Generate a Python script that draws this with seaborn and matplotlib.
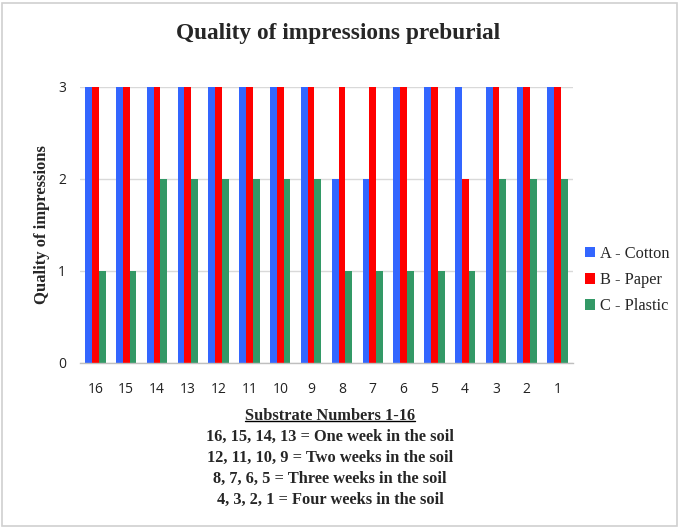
import matplotlib
matplotlib.use("Agg")
import matplotlib.pyplot as plt
from matplotlib.patches import Rectangle, Patch
from matplotlib.lines import Line2D
import seaborn as sns
import pandas as pd
import numpy as np

substrates = ["16", "15", "14", "13", "12", "11", "10", "9",
              "8", "7", "6", "5", "4", "3", "2", "1"]
cotton = [3, 3, 3, 3, 3, 3, 3, 3, 2, 2, 3, 3, 3, 3, 3, 3]
paper = [3, 3, 3, 3, 3, 3, 3, 3, 3, 3, 3, 3, 2, 3, 3, 3]
plastic = [1, 1, 2, 2, 2, 2, 2, 2, 1, 1, 1, 1, 1, 2, 2, 2]
series_names = ["A - Cotton", "B - Paper", "C - Plastic"]
colors = ["#3366FF", "#FF0000", "#339966"]
notes = [
    "16, 15, 14, 13 = One week in the soil",
    "12, 11, 10, 9 = Two weeks in the soil",
    "8, 7, 6, 5 = Three weeks in the soil",
    "4, 3, 2, 1 = Four weeks in the soil",
]

rows = []
for name, vals in zip(series_names, [cotton, paper, plastic]):
    for s, v in zip(substrates, vals):
        rows.append({"Substrate": s, "Quality": v, "Material": name})
df = pd.DataFrame(rows)

sns.set_theme(style="white")
serif = ["Liberation Serif", "DejaVu Serif"]
sans = ["Open Sans", "DejaVu Sans"]

W, H = 680, 529
fig = plt.figure(figsize=(W / 100, H / 100), dpi=100)
ax = fig.add_axes([80 / W, 1 - 363 / H, (573 - 80) / W, (363 - 87) / H])

sns.barplot(data=df, x="Substrate", y="Quality", hue="Material",
            order=substrates, hue_order=series_names, palette=colors,
            width=0.66, saturation=1, linewidth=0, ax=ax, legend=False)

ax.set_xlim(-0.5, len(substrates) - 0.5)
ax.set_ylim(0, 3)
ax.set_yticks([0, 1, 2, 3])
ax.yaxis.grid(True, color="#d9d9d9", linewidth=1)
ax.set_axisbelow(True)
for side in ["left", "right", "top"]:
    ax.spines[side].set_visible(False)
ax.spines["bottom"].set_color("#bfbfbf")
ax.spines["bottom"].set_linewidth(1)

ax.set_xticks(np.arange(len(substrates)))
ax.set_xticklabels(substrates, family=sans, fontsize=10, color="#222222")
ax.set_xticks(np.arange(len(substrates) + 1) - 0.5, minor=True)
ax.tick_params(axis="x", which="major", length=0, pad=14)
ax.tick_params(axis="x", which="minor", length=5, color="#bfbfbf", width=1)
ax.tick_params(axis="y", length=0, pad=10)
for lbl in ax.get_yticklabels():
    lbl.set_family(sans)
    lbl.set_fontsize(10)
    lbl.set_color("#222222")

ax.set_xlabel("")
ax.set_ylabel("Quality of impressions", family=serif, fontsize=12,
              fontweight="bold", labelpad=6)

fig.text(338 / W, 1 - 34 / H, "Quality of impressions preburial",
         family=serif, fontsize=16.8, fontweight="bold", ha="center",
         va="center")

handles = [Patch(facecolor=c, edgecolor="none") for c in colors]
fig.legend(handles, series_names, loc="center left",
           bbox_to_anchor=(585 / W, 1 - 280 / H), frameon=False,
           prop={"family": serif, "size": 11.8}, handlelength=0.62,
           handleheight=0.62, handletextpad=0.3, labelspacing=0.62,
           borderpad=0, borderaxespad=0)

# caption below the axis
cx = 330 / W
hdr = fig.text(cx, 1 - 416 / H, "Substrate Numbers 1-16", family=serif,
               fontsize=11.8, fontweight="bold", ha="center", va="center")
for i, line in enumerate(notes):
    fig.text(cx, 1 - (437 + 21 * i) / H, line, family=serif, fontsize=11.8,
             fontweight="bold", ha="center", va="center")

fig.canvas.draw()
bb = hdr.get_window_extent().transformed(fig.transFigure.inverted())
fig.add_artist(Line2D([bb.x0, bb.x1], [bb.y0 + 0.006, bb.y0 + 0.006],
                      transform=fig.transFigure, color="black", linewidth=1))

# outer frame of the chart area
fig.add_artist(Rectangle((2 / W, 3 / H), (W - 5) / W, (H - 6) / H,
                         transform=fig.transFigure, fill=False,
                         edgecolor="#d0d0d0", linewidth=1.2))

fig.savefig("out.png", dpi=100)
